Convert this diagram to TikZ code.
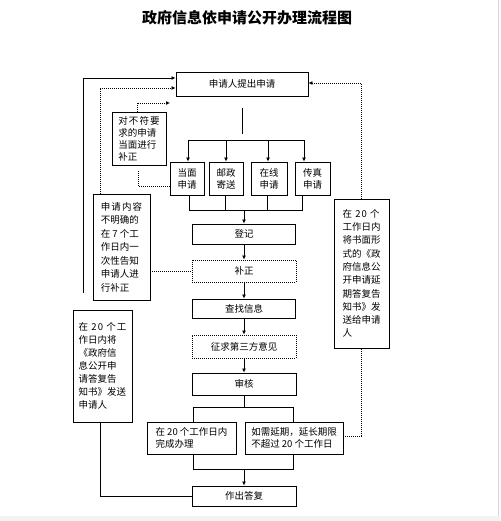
\documentclass[tikz,border=0pt]{standalone}
\usepackage{fontspec}
\setmainfont{Noto Sans CJK SC}
\newfontfamily\cjksp{Noto Sans CJK SC}[LetterSpace=12]
\usetikzlibrary{arrows.meta,calc}
\begin{document}
\begin{tikzpicture}[x=1pt,y=-1pt,
  font=\fontsize{9.5}{12}\selectfont,
  bx/.style={draw,line width=0.9pt,inner sep=0pt,align=center},
  dbx/.style={draw,line width=0.9pt,dash pattern=on 1pt off 1pt,inner sep=0pt,align=center},
  ln/.style={line width=0.9pt},
  dl/.style={line width=0.9pt,dash pattern=on 1pt off 1pt},
  arr/.style={-{Latex[length=4pt,width=4pt]}}]
\useasboundingbox (0,0) rectangle (500,521);
\fill[gray!10] (0,516) rectangle (500,521);
\draw[gray!30,line width=0.6pt] (498.5,0) -- (498.5,516);

\node (title) at (247,18) {\fontsize{15}{18}\selectfont\bfseries 政府信息依申请公开办理流程图};

% main column
\node[bx,minimum width=132,minimum height=24] (top) at (242,84) {申请人提出申请};
\node[bx,minimum width=54,minimum height=53,align=left] (bf) at (139,138.5) {\cjksp 对不符要\\求的申请\\当面进行\\补正};
\node[bx,minimum width=34,minimum height=33] (c1) at (187,178.5) {当面\\申请};
\node[bx,minimum width=34,minimum height=33] (c2) at (226,178.5) {邮政\\寄送};
\node[bx,minimum width=36,minimum height=33] (c3) at (269,178.5) {在线\\申请};
\node[bx,minimum width=35,minimum height=33] (c4) at (312.5,178.5) {传真\\申请};
\node[bx,minimum width=103,minimum height=20] (dj) at (244,234) {登记};
\node[dbx,minimum width=104,minimum height=22] (bz) at (244,271) {补正};
\node[bx,minimum width=103,minimum height=19] (cz) at (244,308.5) {查找信息};
\node[dbx,minimum width=104,minimum height=23] (zq) at (244,346.5) {征求第三方意见};
\node[bx,minimum width=104,minimum height=22] (sh) at (244,384) {审核};
\node[bx,minimum width=89,minimum height=32,align=left] (wc) at (191.5,438) {在 20 个工作日内\\完成办理};
\node[bx,minimum width=98,minimum height=32,align=left] (yq) at (294,438) {如需延期，延长期限\\不超过 20 个工作日};
\node[bx,minimum width=104,minimum height=20] (zd) at (244,496) {作出答复};

% side boxes
\node[bx,minimum width=57,minimum height=106,align=left,font=\fontsize{9.5}{13.5}\selectfont] (ask) at (121.5,247)
  {\cjksp 申请内容\\不明确的\\在 7 个工\\作日内一\\次性告知\\申请人进\\行补正};
\node[bx,minimum width=55,minimum height=149,align=left,font=\fontsize{9.5}{13.3}\selectfont] (rb) at (361.5,273.5)
  {\cjksp 在 20 个\\工作日内\\将书面形\\式的《政\\府信息公\\开申请延\\期答复告\\知书》发\\送给申请\\人};
\node[bx,minimum width=59,minimum height=112,align=left,font=\fontsize{9.5}{12.9}\selectfont] (lb) at (102.5,366)
  {\cjksp 在 20 个工\\作日内将\\《政府信\\息公开申\\请答复告\\知书》发送\\申请人};

% coordinates for free ends
\coordinate (L1) at (83,293);
\coordinate (xa) at (100,88);
\coordinate (bfend) at (170,103);
\coordinate (bfb) at (138,170);
\coordinate (v1) at (242,108);
\coordinate (v2) at (242,134);
\coordinate (b1) at (188,140);
\coordinate (b2) at (226,140);
\coordinate (b3) at (268,140);
\coordinate (b4) at (304,140);
\coordinate (d1) at (189,210);
\coordinate (d2) at (225,210);
\coordinate (d3) at (267,210);
\coordinate (d4) at (302,210);
\coordinate (dm) at (244,210);
\coordinate (s1) at (193,407);
\coordinate (s2) at (293,407);
\coordinate (t1) at (193,469);
\coordinate (t2) at (293,469);

% connectors
\draw[ln,arr] (L1) |- ($(top.west)+(0,-6)$);
\draw[dl,arr] (ask.north -| xa) |- ($(top.west)+(0,4)$);
\draw[dl,arr] ($(bf.north)+(-2,0)$) |- (bfend);
\draw[dl] ($(c1.west)+(0,7.5)$) -| (bfb);
\draw[ln] (v1) -- (v2);
\draw[ln] (b1) -- (b4);
\draw[ln,arr] (b1) -- (b1 |- c1.north);
\draw[ln,arr] (b2) -- (b2 |- c2.north);
\draw[ln,arr] (b3) -- (b3 |- c3.north);
\draw[ln,arr] (b4) -- (b4 |- c4.north);
\draw[ln] (d1 |- c1.south) -- (d1) -- (d4) -- (d4 |- c4.south);
\draw[ln] (d2 |- c2.south) -- (d2);
\draw[ln] (d3 |- c3.south) -- (d3);
\draw[ln,arr] (dm) -- (dj.north);
\draw[ln,arr] (dj) -- (bz);
\draw[ln,arr] (bz) -- (cz);
\draw[ln,arr] (cz) -- (zq);
\draw[ln,arr] (zq) -- (sh);
\draw[ln] (sh.south) -- (sh.south |- s1);
\draw[ln] (s1 |- wc.north) -- (s1) -- (s2) -- (s2 |- yq.north);
\draw[ln] (t1 |- wc.south) -- (t1) -- (t2) -- (t2 |- yq.south);
\draw[ln,arr] (zd.north |- t1) -- (zd.north);
\draw[dl] (ask.east |- bz) -- (bz.west);
\draw[ln] ($(lb.south)+(-2.5,0)$) |- (zd.west);
\draw[dl] ($(yq.east)+(0,-2)$) -| (rb.south);
\draw[dl,arr] (rb.north) |- ($(top.east)+(0,-1)$);
\end{tikzpicture}
\end{document}
